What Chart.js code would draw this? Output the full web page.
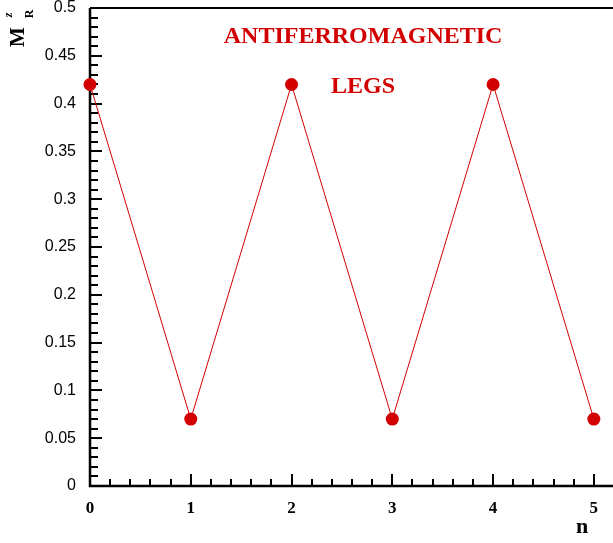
<!DOCTYPE html>
<html>
<head>
<meta charset="utf-8">
<script src="https://cdn.jsdelivr.net/npm/chart.js@4"></script>
<style>
html,body{margin:0;padding:0;background:#fff;}
canvas{display:block;}
</style>
</head>
<body>
<canvas id="c" width="613" height="543"></canvas>
<script>
const nValues = [0, 1, 2, 3, 4, 5];
const mrzValues = [0.42, 0.07, 0.42, 0.07, 0.42, 0.07];
const xTickValues = [0, 1, 2, 3, 4, 5];
const yTickValues = [0, 0.05, 0.1, 0.15, 0.2, 0.25, 0.3, 0.35, 0.4, 0.45, 0.5];
const titleLines = ['ANTIFERROMAGNETIC', 'LEGS'];
const RED = '#d20000';

const axesPlugin = {
  id: 'axesPlugin',
  beforeDatasetsDraw(chart) {
    const ctx = chart.ctx;
    const xs = chart.scales.x, ys = chart.scales.y;
    const a = chart.chartArea;
    ctx.save();
    ctx.strokeStyle = '#000';
    ctx.lineCap = 'butt';
    ctx.lineWidth = 2;
    for (let i = 0; i <= 26; i++) {
      const v = i * 0.2;
      if (v > xs.max + 1e-9) break;
      const px = Math.round(xs.getPixelForValue(v));
      const major = i % 5 === 0;
      const len = major ? 12 : 7;
      ctx.beginPath();
      ctx.moveTo(px, a.bottom);
      ctx.lineTo(px, a.bottom - len);
      ctx.stroke();
    }
    for (let i = 0; i <= 50; i++) {
      const v = i * 0.01;
      const py = Math.round(ys.getPixelForValue(v));
      const major = i % 5 === 0;
      const len = major ? 12 : 8;
      ctx.beginPath();
      ctx.moveTo(a.left, py);
      ctx.lineTo(a.left + len, py);
      ctx.stroke();
    }
    ctx.lineWidth = 2.5;
    ctx.beginPath();
    ctx.moveTo(a.left, a.top);
    ctx.lineTo(a.left, a.bottom + 1);
    ctx.moveTo(a.left - 1, a.bottom);
    ctx.lineTo(a.right, a.bottom);
    ctx.stroke();
    ctx.lineWidth = 2;
    ctx.beginPath();
    ctx.moveTo(a.left, a.top);
    ctx.lineTo(a.right, a.top);
    ctx.stroke();
    ctx.restore();
  },
  afterDraw(chart) {
    const ctx = chart.ctx;
    const xs = chart.scales.x;
    ctx.save();
    ctx.fillStyle = RED;
    ctx.font = 'bold 24px "Liberation Serif"';
    ctx.textAlign = 'center';
    ctx.textBaseline = 'alphabetic';
    const cx = xs.getPixelForValue(2.71);
    ctx.fillText(titleLines[0], cx, 43);
    ctx.fillText(titleLines[1], cx, 93);
    ctx.fillStyle = '#000';
    ctx.font = 'bold 22px "Liberation Serif"';
    ctx.fillText('n', 582, 533);
    ctx.translate(24, 47);
    ctx.rotate(-Math.PI / 2);
    ctx.textAlign = 'left';
    ctx.font = 'bold 21px "Liberation Serif"';
    ctx.fillText('M', 0, 0);
    const mw = ctx.measureText('M').width;
    ctx.font = 'bold 12px "Liberation Serif"';
    ctx.fillText('R', mw + 9, 9);
    ctx.font = 'bold italic 12px "Liberation Serif"';
    ctx.fillText('z', mw + 10, -12);
    ctx.restore();
  }
};

new Chart(document.getElementById('c'), {
  type: 'line',
  data: {
    datasets: [{
      data: nValues.map((n, i) => ({x: n, y: mrzValues[i]})),
      borderColor: RED,
      borderWidth: 1,
      backgroundColor: RED,
      pointBackgroundColor: RED,
      pointBorderColor: RED,
      pointRadius: 6.5,
      pointBorderWidth: 0,
      tension: 0,
      clip: false
    }]
  },
  options: {
    responsive: false,
    animation: false,
    events: [],
    layout: {autoPadding: false, padding: {top: 8, right: 0, left: 0, bottom: 0}},
    plugins: {legend: {display: false}, tooltip: {enabled: false}, title: {display: false}},
    scales: {
      x: {
        type: 'linear',
        min: 0,
        max: 5.19,
        grid: {display: false, drawTicks: false},
        border: {display: false},
        afterBuildTicks(scale) { scale.ticks = xTickValues.map(v => ({value: v})); },
        afterFit(scale) { scale.height = 57; scale.paddingLeft = 0; scale.paddingRight = 0; },
        ticks: {
          padding: 12,
          color: '#000',
          font: {family: '"Liberation Serif"', size: 17, weight: 'bold'},
          maxRotation: 0,
          autoSkip: false
        }
      },
      y: {
        type: 'linear',
        min: 0,
        max: 0.5,
        grid: {display: false, drawTicks: false},
        border: {display: false},
        afterBuildTicks(scale) { scale.ticks = yTickValues.map(v => ({value: v})); },
        afterFit(scale) { scale.width = 90; scale.paddingTop = 0; scale.paddingBottom = 0; },
        ticks: {
          padding: 14,
          color: '#000',
          font: {family: '"Liberation Sans"', size: 16},
          autoSkip: false,
          callback: v => String(Math.round(v * 100) / 100)
        }
      }
    }
  },
  plugins: [axesPlugin]
});
</script>
</body>
</html>
